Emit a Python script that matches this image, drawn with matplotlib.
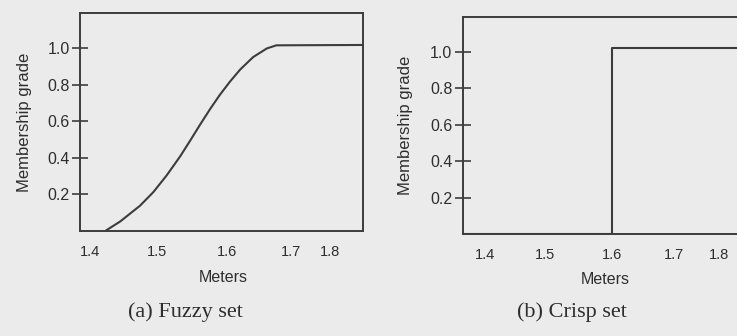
import matplotlib
matplotlib.use("Agg")
import matplotlib.pyplot as plt

# fuzzy set: membership grade vs height
fuzzy_x = [1.422, 1.444, 1.473, 1.4925, 1.512, 1.532, 1.546, 1.561,
           1.576, 1.590, 1.605, 1.620, 1.639, 1.659, 1.673, 1.800]
fuzzy_y = [0.0, 0.052, 0.138, 0.212, 0.303, 0.408, 0.490, 0.580,
           0.667, 0.743, 0.816, 0.882, 0.950, 0.997, 1.014, 1.016]

# crisp set: step at 1.6 m
crisp_x = [1.365, 1.6, 1.6, 1.82]
crisp_y = [0.0, 0.0, 1.02, 1.02]

y_ticks = [0.2, 0.4, 0.6, 0.8, 1.0]
y_labels = ["0.2", "0.4", "0.6", "0.8", "1.0"]
x_labels = ["1.4", "1.5", "1.6", "1.7", "1.8"]
# the scanned labels are not evenly spaced, so place them where they sit
x_label_pos_a = [1.400, 1.498, 1.600, 1.694, 1.752]
x_label_pos_b = [1.400, 1.494, 1.600, 1.697, 1.769]

bg = "#ebebeb"
ink = "#3c3c3c"
txt = "#2e2e2e"
sans = "Liberation Sans"
serif = "Liberation Serif"

fig = plt.figure(figsize=(7.37, 3.36), dpi=100, facecolor=bg)

def setup(ax, xlim, xpos):
    ax.set_facecolor(bg)
    ax.set_xlim(*xlim)
    ax.set_ylim(0, 1.19)
    for s in ax.spines.values():
        s.set_color(ink)
        s.set_linewidth(1.4)
    ax.set_yticks(y_ticks, y_labels)
    ax.set_xticks(xpos, x_labels)
    ax.tick_params(axis="y", direction="inout", length=11, width=1.2,
                   color=ink, pad=2, labelsize=11.5, labelcolor=txt)
    ax.tick_params(axis="x", length=0, pad=10, labelsize=10.5, labelcolor=txt)
    for lab in ax.get_xticklabels() + ax.get_yticklabels():
        lab.set_family(sans)
    ax.set_ylabel("Membership grade", family=sans, fontsize=12, color=txt)

ax1 = fig.add_axes([0.1085, 0.3125, 0.384, 0.6485])
setup(ax1, (1.385, 1.80), x_label_pos_a)
ax1.plot(fuzzy_x, fuzzy_y, color=ink, lw=1.5, solid_joinstyle="round")
ax1.yaxis.set_label_coords(-0.17, 0.5)

ax2 = fig.add_axes([0.628, 0.3036, 0.392, 0.6458])
setup(ax2, (1.365, 1.82), x_label_pos_b)
ax2.plot(crisp_x, crisp_y, color=ink, lw=1.5)
ax2.yaxis.set_label_coords(-0.174, 0.5)

fig.text(223 / 737, 1 - 277.5 / 336, "Meters", family=sans, fontsize=11.5,
         color=txt, ha="center", va="center")
fig.text(605 / 737, 1 - 279 / 336, "Meters", family=sans, fontsize=11.5,
         color=txt, ha="center", va="center")
fig.text(185 / 737, 1 - 312 / 336, "(a) Fuzzy set", family=serif, fontsize=16,
         color=txt, ha="center", va="center")
fig.text(572 / 737, 1 - 312 / 336, "(b) Crisp set", family=serif, fontsize=16,
         color=txt, ha="center", va="center")

fig.savefig("out.png", dpi=100, facecolor=bg)
